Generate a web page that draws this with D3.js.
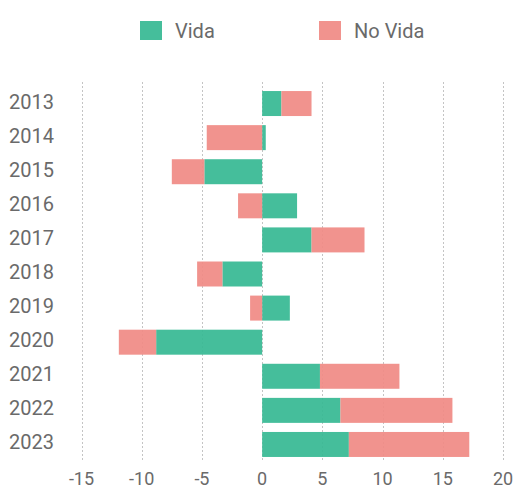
<!DOCTYPE html>
<html>
<head>
<meta charset="utf-8">
<script src="https://cdn.jsdelivr.net/npm/d3@7"></script>
<style>
  body { margin: 0; background: #fff; }
  text { font-family: Roboto, "Noto Sans", sans-serif; fill: #6a6a6a; }
</style>
</head>
<body>
<div id="chart"></div>
<script>
// data
const years = ['2013', '2014', '2015', '2016', '2017', '2018', '2019', '2020', '2021', '2022', '2023'];
const vida = [1.6, 0.3, -4.8, 2.9, 4.1, -3.3, 2.3, -8.8, 4.8, 6.5, 7.2];
const noVida = [2.5, -4.6, -2.7, -2.0, 4.4, -2.1, -1.0, -3.1, 6.6, 9.3, 10.0];
const xTicks = [-15, -10, -5, 0, 5, 10, 15, 20];
const seriesNames = ['Vida', 'No Vida'];
const colors = ['#35b892', '#f08a84'];

const width = 514;
const height = 489;

const rows = years.map((y, i) => ({ year: y, 'Vida': vida[i], 'No Vida': noVida[i] }));

const stack = d3.stack()
  .keys(seriesNames)
  .offset(d3.stackOffsetDiverging);
const stacked = stack(rows);

const x = d3.scaleLinear()
  .domain([-15, 20])
  .range([81.5, 503]);

const y = d3.scaleBand()
  .domain(years)
  .range([86.5, 461.5])
  .paddingInner(0.267)
  .paddingOuter(0.133);

const svg = d3.select('#chart')
  .append('svg')
    .attr('width', width)
    .attr('height', height);

// grid
svg.append('g')
  .selectAll('line')
  .data(xTicks)
  .enter()
  .append('line')
    .attr('x1', d => Math.round(x(d)) + 0.5)
    .attr('x2', d => Math.round(x(d)) + 0.5)
    .attr('y1', 82)
    .attr('y2', 462)
    .attr('stroke', '#c4c4c4')
    .attr('stroke-width', 1)
    .attr('stroke-dasharray', '2,2');

// bars
const layers = svg.append('g')
  .selectAll('g')
  .data(stacked)
  .enter()
  .append('g')
    .attr('fill', (d, i) => colors[i])
    .attr('fill-opacity', 0.92);

layers.selectAll('rect')
  .data(d => d)
  .enter()
  .append('rect')
    .attr('x', d => x(Math.min(d[0], d[1])))
    .attr('width', d => Math.abs(x(d[1]) - x(d[0])))
    .attr('y', d => y(d.data.year))
    .attr('height', y.bandwidth());

// year labels
svg.append('g')
  .selectAll('text')
  .data(years)
  .enter()
  .append('text')
    .attr('x', 54)
    .attr('y', d => y(d) + y.bandwidth() / 2 - 2)
    .attr('text-anchor', 'end')
    .attr('dominant-baseline', 'central')
    .style('font-size', '20px')
    .text(d => d);

// x tick labels
svg.append('g')
  .selectAll('text')
  .data(xTicks)
  .enter()
  .append('text')
    .attr('x', d => x(d))
    .attr('y', 485)
    .attr('text-anchor', 'middle')
    .style('font-size', '18px')
    .text(d => d);

// legend
const legendX = [140, 319];
const legend = svg.append('g')
  .selectAll('g')
  .data(seriesNames)
  .enter()
  .append('g')
    .attr('transform', (d, i) => 'translate(' + legendX[i] + ',21)');

legend.append('rect')
  .attr('width', 22)
  .attr('height', 19)
  .attr('fill', (d, i) => colors[i])
  .attr('fill-opacity', 0.92);

legend.append('text')
  .attr('x', 35)
  .attr('y', 17)
  .style('font-size', '20px')
  .text(d => d);
</script>
</body>
</html>
